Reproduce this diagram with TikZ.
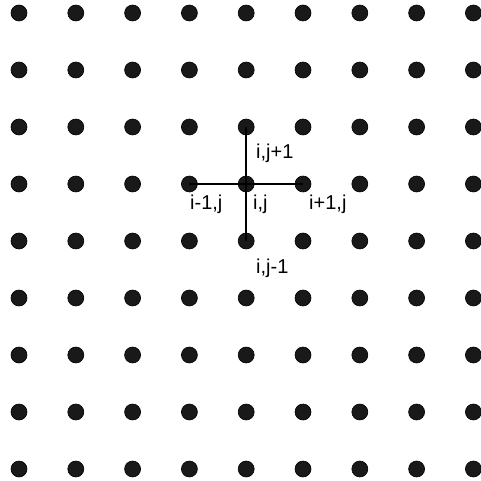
\documentclass[tikz,border=0pt]{standalone}
\usepackage{fontspec}
\setmainfont{Liberation Sans}
\begin{document}
\begin{tikzpicture}[x=1pt,y=-1pt,
  dot/.style={circle,fill=black!90,draw=black,line width=0.6pt,inner sep=0pt,minimum size=16pt},
  lbl/.style={font=\fontsize{20}{22}\selectfont,inner sep=0pt,anchor=base west},
  link/.style={line width=1.5pt,black}]
\useasboundingbox (0,0) rectangle (480,481);
\foreach \i in {0,...,8}{
  \foreach \j in {0,...,8}{
    \node[dot] (d\i\j) at ({19+56.8*\i},{13+57*\j}) {};
  }
}
\draw[link] (d43.center) -- (d42.center);
\draw[link] (d43.center) -- (d33.center);
\draw[link] (d43.center) -- (d53.center);
\draw[link] (d43.center) -- (d44.center);
\node[lbl] (t1) at (256,158) {i,j+1};
\node[lbl] (t2) at (190,209) {i-1,j};
\node[lbl] (t3) at (253,209) {i,j};
\node[lbl] (t4) at (309,209) {i+1,j};
\node[lbl] (t5) at (256,273) {i,j-1};
\end{tikzpicture}
\end{document}
